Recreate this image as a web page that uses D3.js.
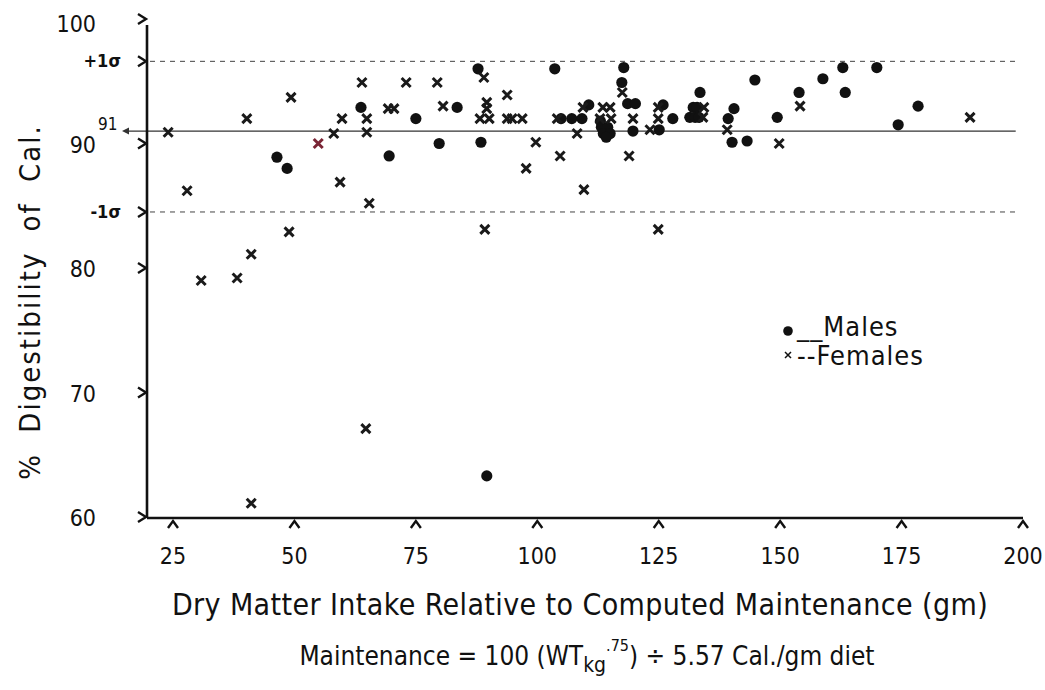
<!DOCTYPE html>
<html><head><meta charset="utf-8">
<script src="https://cdn.jsdelivr.net/npm/d3@7"></script>
<style>
html,body{margin:0;padding:0;background:#fff;}
svg{display:block;}
text{font-family:"DejaVu Sans Condensed","Liberation Sans Narrow","DejaVu Sans",sans-serif;fill:#111;}
</style></head>
<body>
<svg id="c" width="1045" height="690"></svg>
<script>
// ---- data ----
const xTicks = [25, 50, 75, 100, 125, 150, 175, 200];
const yTicks = [60, 70, 80, 90, 100];
const meanValue = 91;
const sigmaLines = [96.6, 84.5];
const sigmaLabels = ["+1σ", "-1σ"];

// Males (dots): [intake, digestibility]
const males = [
  [46.4, 88.9], [48.5, 88.0], [63.7, 92.9], [69.5, 89.0], [75.0, 92.0],
  [79.8, 90.0], [83.5, 92.9], [87.8, 96.0], [88.4, 90.1], [103.6, 96.0],
  [104.9, 92.0], [107.1, 92.0], [109.2, 92.0], [110.6, 93.1],
  [113.0, 91.8], [113.2, 91.3], [114.5, 91.3], [113.6, 90.8], [115.0, 90.8], [114.2, 90.5],
  [117.8, 96.1], [117.4, 94.9], [118.6, 93.2], [120.2, 93.2], [119.7, 91.0],
  [125.1, 91.1], [125.9, 93.1], [127.9, 92.0], [133.5, 94.1], [132.1, 92.9],
  [132.9, 92.9], [131.4, 92.1], [132.5, 92.1], [133.3, 92.1], [139.3, 92.0],
  [140.5, 92.8], [140.1, 90.1], [143.2, 90.2], [144.8, 95.1], [149.4, 92.1],
  [153.9, 94.1], [158.8, 95.2], [162.9, 96.1], [163.4, 94.1], [169.9, 96.1],
  [174.3, 91.5], [178.4, 93.0], [89.6, 63.3]
];
// Females (crosses): [intake, digestibility]
const females = [
  [24.0, 90.9], [27.9, 86.2], [30.8, 79.0], [38.2, 79.2], [40.2, 92.0],
  [41.1, 81.1], [41.1, 61.1], [48.9, 82.9], [49.3, 93.7], [58.1, 90.8],
  [59.8, 92.0], [59.4, 86.9], [63.9, 94.9], [64.9, 92.0], [64.9, 90.9],
  [64.7, 67.1], [65.4, 85.2], [69.3, 92.8], [70.5, 92.8], [73.0, 94.9],
  [79.4, 94.9], [80.6, 93.0], [89.0, 95.3], [89.6, 93.3], [89.6, 92.8],
  [88.2, 92.0], [90.1, 92.0], [89.2, 83.1], [93.8, 93.9], [93.8, 92.0],
  [94.8, 92.0], [96.9, 92.0], [97.7, 88.0], [99.7, 90.1], [104.1, 92.0],
  [104.7, 89.0], [108.2, 90.8], [109.4, 92.9], [109.6, 86.3], [113.5, 92.9],
  [115.0, 92.9], [112.9, 92.0], [115.2, 92.0], [117.5, 94.1], [118.9, 89.0],
  [119.7, 92.0], [123.2, 91.1], [124.9, 92.9], [124.9, 92.0], [124.9, 83.1],
  [134.3, 92.9], [134.1, 92.1], [139.1, 91.1], [149.8, 90.0], [154.1, 93.0],
  [189.1, 92.1]
];
const femalesRed = [[54.9, 90.0]];

// ---- chart ----
const svg = d3.select("#c");
const x = d3.scaleLinear().domain([25, 200]).range([173, 1023]);
const y = d3.scaleLinear().domain([60, 100]).range([517, 19]);
const axisX = 147, axisY = y(60) + 1;

// reference lines
svg.selectAll("line.sigma").data(sigmaLines).enter().append("line")
  .attr("x1", axisX + 3).attr("x2", x(199)).attr("y1", d => y(d)).attr("y2", d => y(d))
  .attr("stroke", "#444").attr("stroke-width", 1).attr("stroke-dasharray", "5,5");
svg.append("line").attr("x1", 124).attr("x2", x(198.5))
  .attr("y1", y(meanValue)).attr("y2", y(meanValue))
  .attr("stroke", "#333").attr("stroke-width", 1.3);
svg.append("path")
  .attr("d", `M${122},${y(meanValue)} l7,-3.5 l0,7 z`).attr("fill", "#333");

// axes lines
svg.append("line").attr("x1", axisX).attr("x2", axisX).attr("y1", y(100) + 6).attr("y2", axisY)
  .attr("stroke", "#111").attr("stroke-width", 2.6);
svg.append("line").attr("x1", axisX).attr("x2", x(200)).attr("y1", axisY).attr("y2", axisY)
  .attr("stroke", "#111").attr("stroke-width", 2.6);

// y chevron ticks
const yTickVals = yTicks.concat(sigmaLines);
svg.selectAll("path.ytick").data(yTickVals).enter().append("path")
  .attr("d", d => `M${axisX - 9},${y(d) - 5} L${axisX - 1},${y(d)} L${axisX - 9},${y(d) + 5}`)
  .attr("fill", "none").attr("stroke", "#111").attr("stroke-width", 2.4);
// x chevron ticks
svg.selectAll("path.xtick").data(xTicks).enter().append("path")
  .attr("d", d => `M${x(d) - 5},${axisY + 10} L${x(d)},${axisY + 3} L${x(d) + 5},${axisY + 10}`)
  .attr("fill", "none").attr("stroke", "#111").attr("stroke-width", 2.4);

// y tick labels
svg.selectAll("text.ylab").data(yTicks).enter().append("text")
  .attr("x", 96).attr("y", d => (d === 100 ? 32 : y(d) + 9))
  .attr("text-anchor", "end").attr("font-size", 23).text(d => d);
svg.selectAll("text.slab").data(sigmaLines).enter().append("text")
  .attr("x", 121).attr("y", d => y(d) + 6)
  .attr("text-anchor", "end").attr("font-size", 18).attr("font-weight", "bold")
  .text((d, i) => sigmaLabels[i]);
svg.append("text").attr("x", 98).attr("y", y(meanValue) - 1)
  .attr("font-size", 17).text(meanValue);

// x tick labels
svg.selectAll("text.xlab").data(xTicks).enter().append("text")
  .attr("x", d => x(d)).attr("y", 564).attr("text-anchor", "middle")
  .attr("font-size", 23).text(d => d);

// points
const crossPath = "M-4.5,-4.5L4.5,4.5M-4.5,4.5L4.5,-4.5";
svg.selectAll("circle.m").data(males).enter().append("circle")
  .attr("cx", d => x(d[0])).attr("cy", d => y(d[1])).attr("r", 5.6).attr("fill", "#111");
svg.selectAll("path.f").data(females).enter().append("path")
  .attr("transform", d => `translate(${x(d[0])},${y(d[1])})`)
  .attr("d", crossPath).attr("stroke", "#1a1a1a").attr("stroke-width", 3);
svg.selectAll("path.fr").data(femalesRed).enter().append("path")
  .attr("transform", d => `translate(${x(d[0])},${y(d[1])})`)
  .attr("d", crossPath).attr("stroke", "#7a2535").attr("stroke-width", 3);

// legend
svg.append("circle").attr("cx", 788).attr("cy", 331).attr("r", 4.8).attr("fill", "#111");
svg.append("text").attr("x", 797).attr("y", 336).attr("font-size", 27).attr("letter-spacing", 1)
  .text("__Males");
svg.append("path").attr("transform", "translate(788,355)").attr("d", "M-3,-3L3,3M-3,3L3,-3")
  .attr("stroke", "#111").attr("stroke-width", 1.5);
svg.append("text").attr("x", 797).attr("y", 365).attr("font-size", 27).attr("letter-spacing", 1)
  .text("--Females");

// axis titles
svg.append("text").attr("transform", "translate(40,302) rotate(-90)")
  .attr("text-anchor", "middle").attr("font-size", 29).attr("letter-spacing", 2)
  .attr("word-spacing", 10).text("% Digestibility of Cal.");
svg.append("text").attr("x", 580).attr("y", 615).attr("text-anchor", "middle")
  .attr("font-size", 30).attr("letter-spacing", 0.4)
  .text("Dry Matter Intake Relative to Computed Maintenance (gm)");
const t2 = svg.append("text").attr("x", 587).attr("y", 665).attr("text-anchor", "middle")
  .attr("font-size", 26);
t2.append("tspan").text("Maintenance = 100 (WT");
t2.append("tspan").attr("dy", 7).attr("font-size", 21).text("kg");
t2.append("tspan").attr("dy", -21).attr("font-size", 16).text(".75");
t2.append("tspan").attr("dy", 14).text(") ÷ 5.57 Cal./gm diet");
</script>
</body></html>
